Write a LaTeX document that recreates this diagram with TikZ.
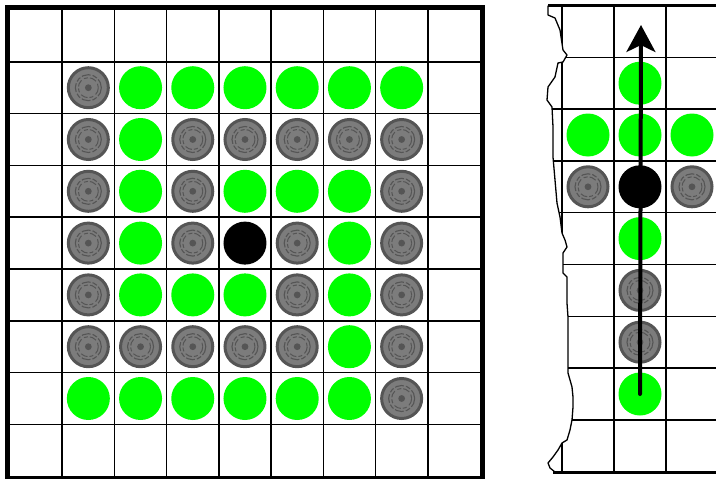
\documentclass[tikz,border=0pt]{standalone}
\usepackage{tikz}
\usepackage{xcolor}
\usetikzlibrary{arrows.meta}
\definecolor{StoneGreen}{HTML}{00FF00}
\definecolor{StoneGray}{HTML}{7C7C7C}
\definecolor{StoneEdge}{HTML}{555555}
\def\tornedge{(548,5.5) -- (548,15) -- (555,18) -- (560,30) -- (563,50) -- (567,55) -- (563,62) -- (558,63) -- (555,77) -- (548,87) -- (547,100) -- (552,107) -- (553,127) -- (553,157) -- (555,180) -- (557,203) -- (560,217) -- (562,233) -- (565,240) -- (567,247) -- (563,253) -- (563,273) -- (567,277) -- (567,303) -- (568,317) -- (568,373) -- (570,380) -- (572,387) -- (573,397) -- (573,407) -- (572,420) -- (570,430) -- (567,440) -- (562,443) -- (558,450) -- (553,457) -- (548,463) -- (550,468) -- (555,472)}
\tikzset{
  gridline/.style={line width=1.5pt, draw=black},
  frame/.style={line width=5pt, draw=black},
  rim/.style={line width=3.5pt, draw=black},
  tornline/.style={line width=1.3pt, draw=black, line join=round},
  grn/.style={circle, inner sep=0pt, minimum size=43pt, fill=StoneGreen},
  blk/.style={circle, inner sep=0pt, minimum size=43pt, fill=black},
  gry/.style={circle, inner sep=0pt, minimum size=40pt, fill=StoneGray, draw=StoneEdge, line width=3pt,
    path picture={
      \draw[StoneEdge, line width=1.1pt, dash pattern=on 9pt off 2pt on 5pt off 2pt] (path picture bounding box.center) circle (13pt);
      \draw[StoneEdge, line width=1pt, dash pattern=on 4pt off 3pt on 7pt off 2pt] (path picture bounding box.center) circle (10pt);
      \fill[StoneEdge] (path picture bounding box.center) circle (3.4pt);
    }},
  arrow/.style={-{Stealth[length=27pt, width=29pt, inset=7pt]}, line width=4pt, line cap=round, draw=black}
}
\begin{document}
\begin{tikzpicture}[x=1pt, y=-1pt]
\useasboundingbox (0,0) rectangle (716,479);
\foreach \i in {1,...,8} \draw[gridline] ({10+52.22*\i},10) -- ({10+52.22*\i},476.2);
\foreach \i in {1,...,8} \draw[gridline] (10,{10+51.8*\i}) -- (480,{10+51.8*\i});
\draw[frame] (7.5,7.5) rectangle (482.5,478.7);
\foreach \cells [count=\r] in {{gry,grn,grn,grn,grn,grn,grn},{gry,grn,gry,gry,gry,gry,gry},{gry,grn,gry,grn,grn,grn,gry},{gry,grn,gry,blk,gry,grn,gry},{gry,grn,grn,grn,gry,grn,gry},{gry,gry,gry,gry,gry,grn,gry},{grn,grn,grn,grn,grn,grn,gry}}
  \foreach \s [count=\c] in \cells
    \node[\s] (L-\r-\c) at ({10+52.22*(\c+0.5)},{10+51.8*(\r+0.5)}) {};
\begin{scope}
\clip (720,5.5) -- \tornedge -- (720,472) -- cycle;
\foreach \x in {562,614,666} \draw[gridline] (\x,5.5) -- (\x,472);
\foreach \i in {1,...,8} \draw[gridline] (540,{5.5+51.8*\i}) -- (720,{5.5+51.8*\i});
\end{scope}
\draw[tornline] \tornedge;
\draw[rim] (548,5.5) -- (716,5.5);
\draw[rim] (553,472.5) -- (716,472.5);
\foreach \r/\c/\s in {1/2/grn,2/1/grn,2/2/grn,2/3/grn,3/1/gry,3/2/blk,3/3/gry,4/2/grn,5/2/gry,6/2/gry,7/2/grn}
  \node[\s] (R-\r-\c) at ({562+52*(\c-0.5)},{5.5+51.8*(\r+0.5)}) {};
\coordinate (tip) at (641,25);
\draw[arrow] (R-7-2.center) -- (tip);
\end{tikzpicture}
\end{document}
